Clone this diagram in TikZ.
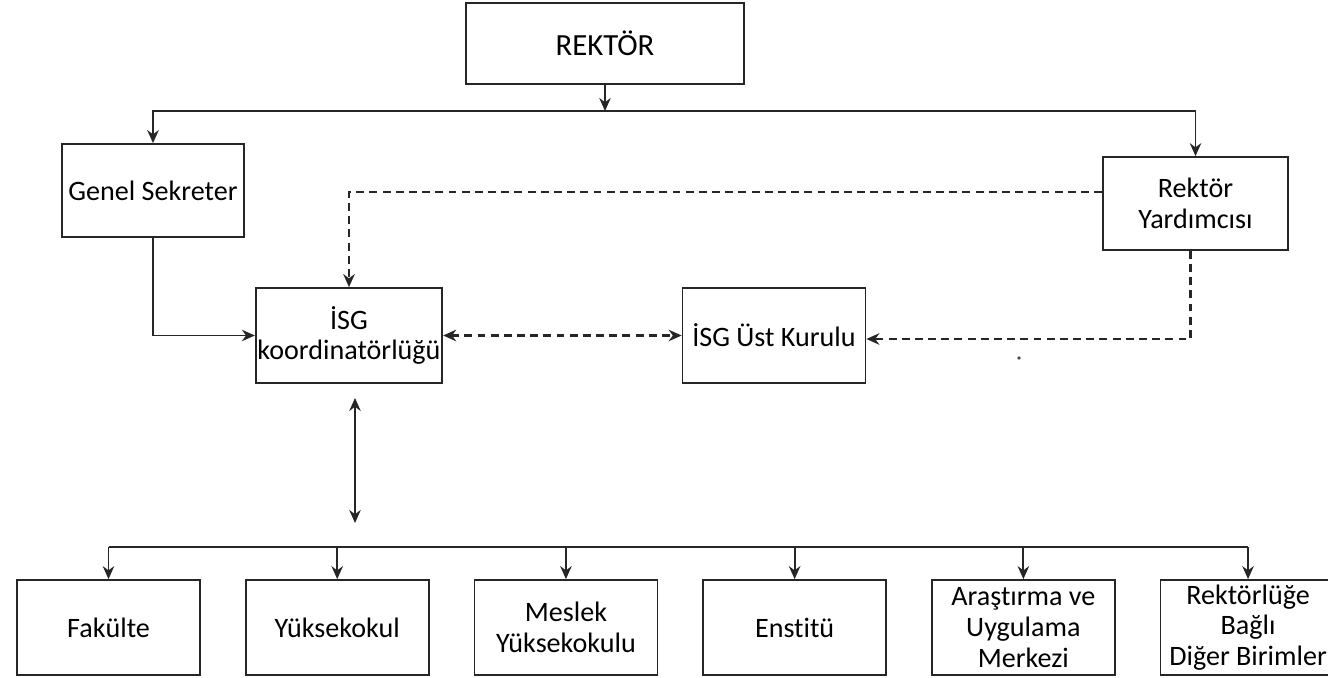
\documentclass[tikz,border=0pt]{standalone}
\usepackage{fontspec}
\setmainfont[Ligatures={NoCommon}]{Carlito}
\usepackage{tikz}
\usetikzlibrary{positioning,arrows.meta}

\begin{document}
\begin{tikzpicture}[
x=0.02cm, y=-0.02cm,
node distance=0.88cm,
>={Stealth[length=2.6mm,width=2.3mm]},
box/.style={
    rectangle,
    minimum width=3.66cm,
    minimum height=1.9cm,
    draw=black!85,
    line width=1pt,
    inner sep=1pt,
    align=center,
    font=\fontsize{16}{17.5}\selectfont
},
line/.style={
    ->,
    draw=black!85,
    line width=1pt
},
dline/.style={
    line,
    line width=1.2pt,
    dash pattern=on 4.5pt off 3pt
}
]
\useasboundingbox (0,0) rectangle (1328,678);

% Top
\node[box,minimum width=5.56cm,minimum height=1.62cm,font=\fontsize{17.5}{20}\selectfont] (rektor) at (605,43.5) {REKTÖR};

\node[box,minimum width=3.64cm,minimum height=1.86cm] (genel) at (153,190.5) {Genel Sekreter};

\node[box,minimum width=3.7cm,minimum height=1.86cm] (yard) at (1195.5,203.5) {Rektör\\Yardımcısı};

% ISG
\node[box] (isgk) at (349,335.5) {İSG\\koordinatörlüğü};

\node[box] (ustk) at (774,335.5) {İSG Üst Kurulu};

% Units
\node[box] (fak) at (108.5,627.5) {Fakülte};
\node[box,right=of fak] (yuk) {Yüksekokul};
\node[box,right=of yuk] (mes) {Meslek\\Yüksekokulu};
\node[box,right=of mes] (ens) {Enstitü};
\node[box,right=of ens] (ara) {Araştırma ve\\Uygulama\\Merkezi};
\node[box,minimum width=3.5cm,right=of ara] (dig) {Rektörlüğe\\Bağlı\\Diğer Birimler};

\coordinate (tb) at (600,111);
\coordinate (bb) at (355,547);
\coordinate (ua) at (355,398);
\coordinate (ub) at (355,523);

% Connections
\draw[line] (rektor.south) -- (rektor.south |- tb);
\draw[line] (tb) -| (genel.north);
\draw[line] (tb) -| (yard.north);

\draw[line] (genel.south) |- (isgk.west);
\draw[dline] ([yshift=0.23cm]yard.west) -| (isgk.north);
\draw[dline,<->] (isgk) -- (ustk);
\draw[dline] ([xshift=-0.1cm]yard.south) |- ([yshift=-0.07cm]ustk.east);

\fill[black!70] (1019,358) circle (1.1pt);

\draw[line,<->] (ua) -- (ub);

\draw[line width=1pt,draw=black!85] (fak.north |- bb) -- (dig.north |- bb);
\draw[line] (fak.north |- bb) -- (fak.north);
\draw[line] (yuk.north |- bb) -- (yuk.north);
\draw[line] (mes.north |- bb) -- (mes.north);
\draw[line] (ens.north |- bb) -- (ens.north);
\draw[line] (ara.north |- bb) -- (ara.north);
\draw[line] (dig.north |- bb) -- (dig.north);

\end{tikzpicture}
\end{document}
